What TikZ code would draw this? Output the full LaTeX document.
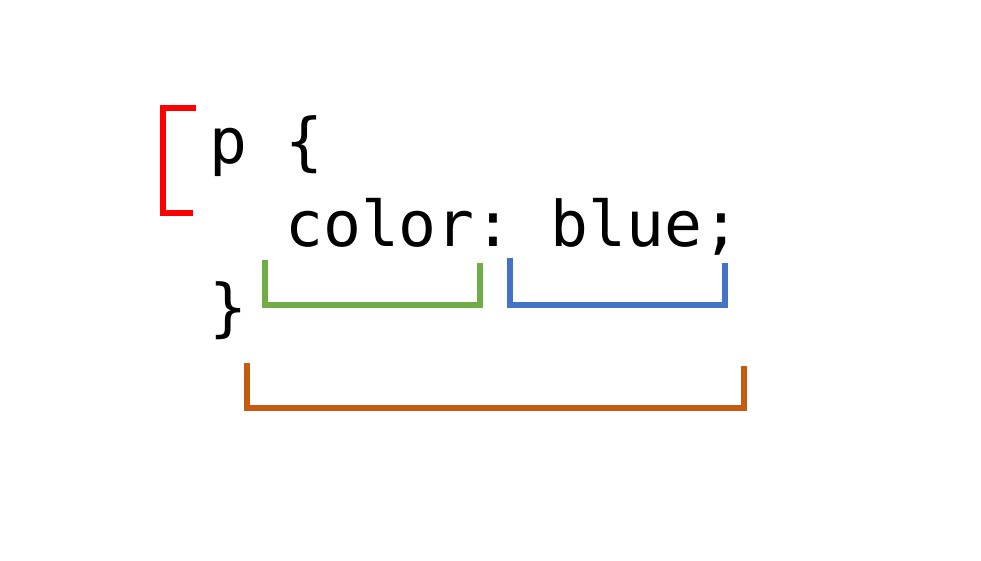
\documentclass[tikz,border=0pt]{standalone}
\usepackage{fontspec}
\setmonofont{DejaVu Sans Mono}
\definecolor{brRed}{RGB}{255,0,0}
\definecolor{brGreen}{RGB}{112,173,71}
\definecolor{brBlue}{RGB}{68,114,196}
\definecolor{brOrange}{RGB}{197,90,17}
\begin{document}
\begin{tikzpicture}[x=1pt,y=-1pt,
  codeline/.style={anchor=base west,inner sep=0pt,font=\ttfamily\fontsize{63}{75}\selectfont},
  bracketline/.style={line width=6pt,line join=miter}]
\useasboundingbox (0,0) rectangle (981,561);
\node[codeline] (l1) at (209,163.5) {p \{};
\node[codeline] (l2) at (285,246) {color: blue;};
\node[codeline] (l3) at (209,329) {\}};
% brackets
\coordinate (r1) at (196,108);
\coordinate (r2) at (193,213);
\draw[bracketline,brRed] (r1) -- (163,108) -- (163,213) -- (r2);
\coordinate (g1) at (265,260);
\coordinate (g2) at (480,263);
\draw[bracketline,brGreen] (g1) -- (265,305) -- (480,305) -- (g2);
\coordinate (b1) at (510,258);
\coordinate (b2) at (725,263);
\draw[bracketline,brBlue] (b1) -- (510,305) -- (725,305) -- (b2);
\coordinate (o1) at (247,363);
\coordinate (o2) at (744,366);
\draw[bracketline,brOrange] (o1) -- (247,408) -- (744,408) -- (o2);
\end{tikzpicture}
\end{document}
